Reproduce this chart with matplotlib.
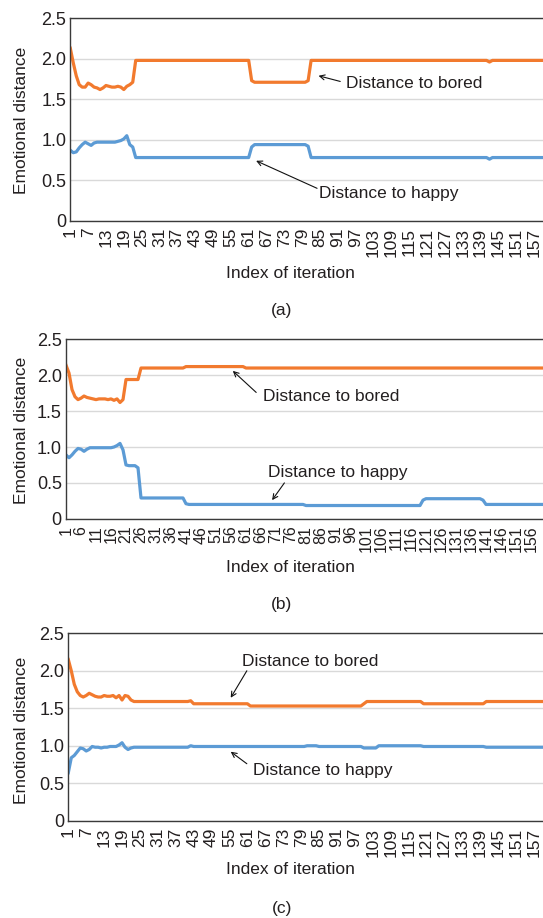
import matplotlib
matplotlib.use("Agg")
import matplotlib.pyplot as plt

plt.rcParams["font.family"] = ["Liberation Sans", "DejaVu Sans"]

# ---- data, 160 iterations per panel ----
iterations = list(range(1, 161))

bored_a = ([2.13, 1.95, 1.79, 1.68, 1.65, 1.65, 1.70, 1.68, 1.65, 1.64, 1.62,
            1.64, 1.67, 1.66, 1.65, 1.65, 1.66, 1.65, 1.62, 1.66, 1.68, 1.71]
           + [1.98] * 39 + [1.73] + [1.71] * 18 + [1.73]
           + [1.98] * 60 + [1.96] + [1.98] * 18)
happy_a = ([0.87, 0.84, 0.85, 0.90, 0.94, 0.97, 0.95, 0.93, 0.96, 0.97, 0.97,
            0.97, 0.97, 0.97, 0.97, 0.97, 0.98, 0.99, 1.01, 1.05, 0.94, 0.91]
           + [0.78] * 39 + [0.91] + [0.94] * 18 + [0.92]
           + [0.78] * 60 + [0.76] + [0.78] * 18)

bored_b = ([2.14, 2.03, 1.80, 1.70, 1.66, 1.68, 1.71, 1.69, 1.68, 1.67,
            1.66, 1.67, 1.67, 1.67, 1.66, 1.67, 1.65, 1.67, 1.62, 1.66]
           + [1.94] * 5 + [2.10] * 15 + [2.12] * 20 + [2.10] * 100)
happy_b = ([0.89, 0.85, 0.89, 0.94, 0.98, 0.97, 0.94, 0.97, 0.99, 0.99,
            0.99, 0.99, 0.99, 0.99, 0.99, 0.99, 1.00, 1.02, 1.05, 0.96]
           + [0.75] + [0.74] * 3 + [0.71] + [0.29] * 15 + [0.21]
           + [0.20] * 39 + [0.185] * 39 + [0.26] + [0.28] * 19 + [0.26]
           + [0.20] * 20)

bored_c = ([2.15, 2.00, 1.82, 1.72, 1.67, 1.65, 1.67, 1.70, 1.68, 1.66, 1.65,
            1.65, 1.67, 1.66, 1.66, 1.67, 1.64, 1.67, 1.61, 1.67, 1.66, 1.61]
           + [1.59] * 19 + [1.60] + [1.56] * 19 + [1.53] * 38 + [1.56]
           + [1.59] * 19 + [1.56] * 21 + [1.59] * 20)
happy_c = ([0.64, 0.84, 0.87, 0.92, 0.97, 0.96, 0.93, 0.95, 0.99, 0.98, 0.98,
            0.97, 0.98, 0.98, 0.99, 0.99, 0.99, 1.01, 1.04, 0.98, 0.95, 0.97]
           + [0.98] * 19 + [1.00] + [0.99] * 38 + [1.00] * 4 + [0.99] * 15
           + [0.97] * 5 + [1.00] * 15 + [0.99] * 21 + [0.98] * 20)

panel_names = ["(a)", "(b)", "(c)"]
tick_steps = [6, 5, 6]
x_tick_sizes = [12.5, 11.5, 12.5]
y_ticks = [0, 0.5, 1.0, 1.5, 2.0, 2.5]
y_tick_labels = ["0", "0.5", "1.0", "1.5", "2.0", "2.5"]

ORANGE = "#F27A2E"
BLUE = "#5C9BD5"
TEXT = "#231F20"

fig = plt.figure(figsize=(5.43, 9.18), dpi=100)

# axes rectangles in figure fraction (left, bottom, width, height)
rects = [
    (70.3 / 543, 1 - 220.7 / 918, 1 - 70.3 / 543, (220.7 - 18.3) / 918),
    (66.0 / 543, 1 - 518.8 / 918, 1 - 66.0 / 543, (518.8 - 339.3) / 918),
    (68.3 / 543, 1 - 820.7 / 918, 1 - 68.3 / 543, (820.7 - 633.3) / 918),
]

# annotation positions (text xy, arrow tail, arrow head) in data coords
bored_notes = [((93.7, 1.70), (91.8, 1.72), (84.5, 1.79)),
               ((66.8, 1.71), (64.4, 1.76), (56.6, 2.06)),
               ((59.1, 2.12), (60.8, 2.00), (55.4, 1.64))]
happy_notes = [((84.8, 0.33), (84.0, 0.40), (63.5, 0.74)),
               ((68.4, 0.65), (73.8, 0.50), (69.7, 0.26)),
               ((63.0, 0.67), (60.8, 0.76), (55.4, 0.92))]

series = [(bored_a, happy_a), (bored_b, happy_b), (bored_c, happy_c)]
xlabel_y = [273, 567, 870]
name_y = [311, 605, 908]
ylabel_y = [120, 430, 730]

for i, rect in enumerate(rects):
    ax = fig.add_axes(rect)
    bored, happy = series[i]
    ax.plot(iterations, bored, color=ORANGE, lw=2.3, solid_joinstyle="round")
    ax.plot(iterations, happy, color=BLUE, lw=2.3, solid_joinstyle="round")

    ax.set_xlim(1, 160)
    ax.set_ylim(0, 2.5)
    ax.set_yticks(y_ticks)
    ax.set_yticklabels(y_tick_labels)
    ticks = list(range(1, 161, tick_steps[i]))
    ax.set_xticks(ticks)
    ax.set_xticklabels([str(t) for t in ticks], rotation=90)
    ax.tick_params(axis="both", length=0, colors=TEXT)
    ax.tick_params(axis="x", pad=5, labelsize=x_tick_sizes[i])
    ax.tick_params(axis="y", pad=3, labelsize=13)

    ax.grid(axis="y", color="#D9D9D9", lw=1.0)
    ax.set_axisbelow(True)
    for s in ["left", "bottom", "top"]:
        ax.spines[s].set_color("#3a3a3a")
        ax.spines[s].set_linewidth(1.0)
    ax.spines["right"].set_visible(False)

    for (txt, tail, head), label in [(bored_notes[i], "Distance to bored"),
                                      (happy_notes[i], "Distance to happy")]:
        ax.text(txt[0], txt[1], label, fontsize=12.5, color=TEXT,
                ha="left", va="center")
        ax.annotate("", xy=head, xytext=tail,
                    arrowprops=dict(arrowstyle="->", color="#111111", lw=0.8,
                                    shrinkA=0, shrinkB=0,
                                    mutation_scale=9))

    fig.text(290 / 543, 1 - xlabel_y[i] / 918, "Index of iteration",
             fontsize=12.5, color=TEXT, ha="center", va="center")
    fig.text(282 / 543, 1 - name_y[i] / 918, panel_names[i],
             fontsize=12.5, color=TEXT, ha="center", va="center")
    fig.text(21.5 / 543, 1 - ylabel_y[i] / 918, "Emotional distance",
             fontsize=12.5, color=TEXT, ha="center", va="center", rotation=90)

fig.savefig("out.png", dpi=100)
